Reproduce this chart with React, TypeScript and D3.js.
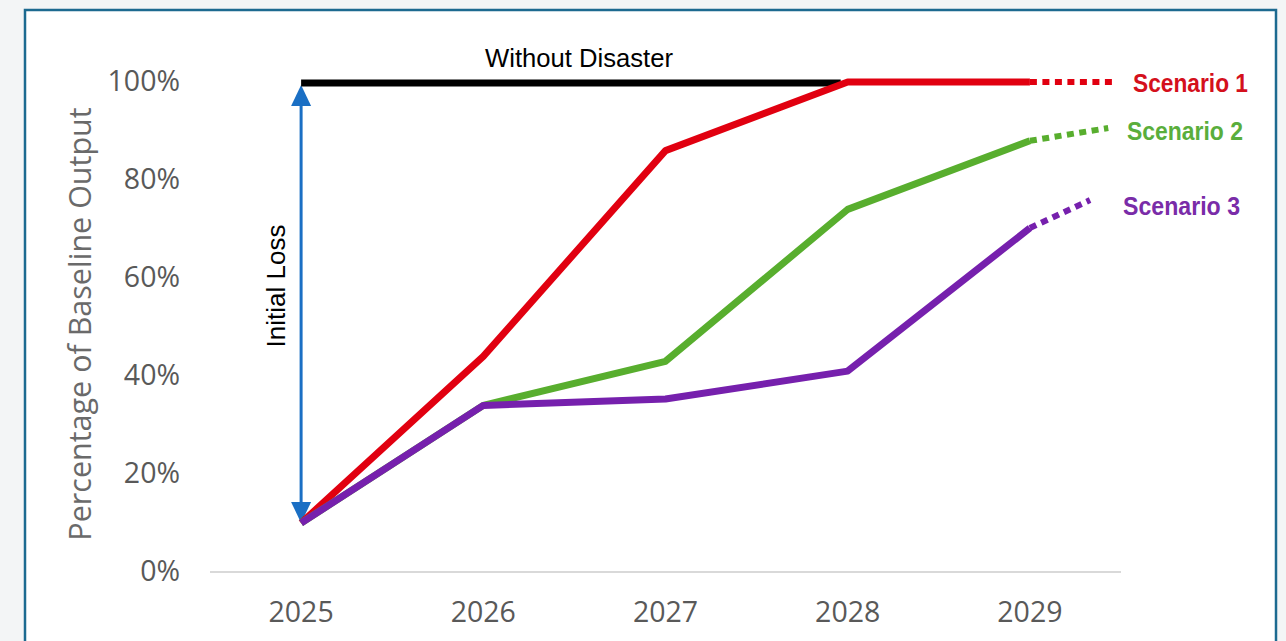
import React from "react";
import * as d3 from "d3";

const years = [2025, 2026, 2027, 2028, 2029];
const yTicks = [0, 20, 40, 60, 80, 100];
const withoutDisaster = [100, 100, 100, 100];
const scenario1 = [10, 44, 86, 100, 100];
const scenario2 = [10, 34, 43, 74, 88];
const scenario3 = [10, 34, 35.3, 41, 70.2];
// projected (dotted) continuation beyond 2029: [year, value]
const ext1: [number, number] = [2029.46, 100];
const ext2: [number, number] = [2029.43, 90.6];
const ext3: [number, number] = [2029.33, 75.9];
const seriesNames = ["Scenario 1", "Scenario 2", "Scenario 3"];

const W = 1286;
const H = 641;

export default function App() {
  const x = d3.scaleLinear().domain([2024.5, 2029.5]).range([210, 1121]);
  const y = d3.scaleLinear().domain([0, 100]).range([572, 82]);
  const line = d3
    .line<[number, number]>()
    .x((d) => x(d[0]))
    .y((d) => y(d[1]));

  const pts = (vals: number[]) => vals.map((v, i) => [years[i], v] as [number, number]);

  const series = [
    { vals: scenario1, ext: ext1, color: "#e10010", text: "#d4101c", label: seriesNames[0], lx: 1133, ly: 92, lw: 115 },
    { vals: scenario2, ext: ext2, color: "#58ae2e", text: "#5aae3c", label: seriesNames[1], lx: 1127, ly: 140, lw: 116 },
    { vals: scenario3, ext: ext3, color: "#7620ad", text: "#7a2ca8", label: seriesNames[2], lx: 1123, ly: 215, lw: 117 },
  ];

  const ax = x(years[0]);
  const arrowTop = y(100) + 3;
  const arrowBot = y(scenario1[0]);

  return (
    <svg
      width={W}
      height={H}
      style={{ position: "absolute", left: 0, top: 0, display: "block" }}
    >
      <rect x={0} y={0} width={W} height={H} fill="#f3f5f6" />
      <rect x={25} y={10} width={1251} height={H + 20} fill="#ffffff" stroke="#1c6a90" strokeWidth={2.5} />

      {/* x axis line */}
      <line x1={210} x2={1121} y1={y(0)} y2={y(0)} stroke="#d9d9d9" strokeWidth={2} />

      {/* y tick labels */}
      {yTicks.map((t) => (
        <text
          key={t}
          x={180}
          y={y(t) + 9}
          textAnchor="end"
          fontFamily="'Open Sans', sans-serif"
          fontSize={28.5}
          fill="#595959"
        >
          {t}%
        </text>
      ))}

      {/* x tick labels */}
      {years.map((yr) => (
        <text
          key={yr}
          x={x(yr)}
          y={622}
          textAnchor="middle"
          fontFamily="'Open Sans', sans-serif"
          fontSize={28.5}
          fill="#595959"
        >
          {yr}
        </text>
      ))}

      {/* y title */}
      <text
        transform={`translate(91, 324) rotate(-90)`}
        textAnchor="middle"
        fontFamily="'Open Sans', sans-serif"
        fontSize={30.5}
        fill="#6a6a6a"
      >
        Percentage of Baseline Output
      </text>

      {/* Initial loss arrow */}
      <line x1={ax} x2={ax} y1={arrowTop + 18} y2={arrowBot - 18} stroke="#1a6fc4" strokeWidth={3} />
      <path d={`M${ax},${arrowTop} L${ax - 10},${arrowTop + 21} L${ax + 10},${arrowTop + 21} Z`} fill="#1a6fc4" />
      <path d={`M${ax},${arrowBot} L${ax - 10},${arrowBot - 21} L${ax + 10},${arrowBot - 21} Z`} fill="#1a6fc4" />
      <text
        transform={`translate(285, 286) rotate(-90)`}
        textAnchor="middle"
        fontFamily="'Liberation Sans', Arial, sans-serif"
        fontSize={26}
        fill="#000"
      >
        Initial Loss
      </text>

      {/* without disaster */}
      <line x1={x(years[0])} x2={x(years[withoutDisaster.length - 1]) - 7} y1={y(100) + 1} y2={y(100) + 1} stroke="#000" strokeWidth={7} />
      <text
        x={579}
        y={67}
        textAnchor="middle"
        fontFamily="'Liberation Sans', Arial, sans-serif"
        fontSize={26}
        textLength={188}
        lengthAdjust="spacingAndGlyphs"
        fill="#000"
      >
        Without Disaster
      </text>

      {/* scenarios */}
      {series.map((s, i) => {
        const p = pts(s.vals);
        const last = p[p.length - 1];
        return (
          <g key={i}>
            <path d={line(p) || ""} fill="none" stroke={s.color} strokeWidth={7} strokeLinejoin="round" />
            <path d={line([last, s.ext]) || ""} fill="none" stroke={s.color} strokeWidth={6} strokeDasharray="7 5.5" />
            <text
              x={s.lx}
              y={s.ly}
              fontFamily="'Liberation Sans', Arial, sans-serif"
              fontWeight="bold"
              fontSize={25}
              textLength={s.lw}
              lengthAdjust="spacingAndGlyphs"
              fill={s.text}
            >
              {s.label}
            </text>
          </g>
        );
      })}
    </svg>
  );
}
